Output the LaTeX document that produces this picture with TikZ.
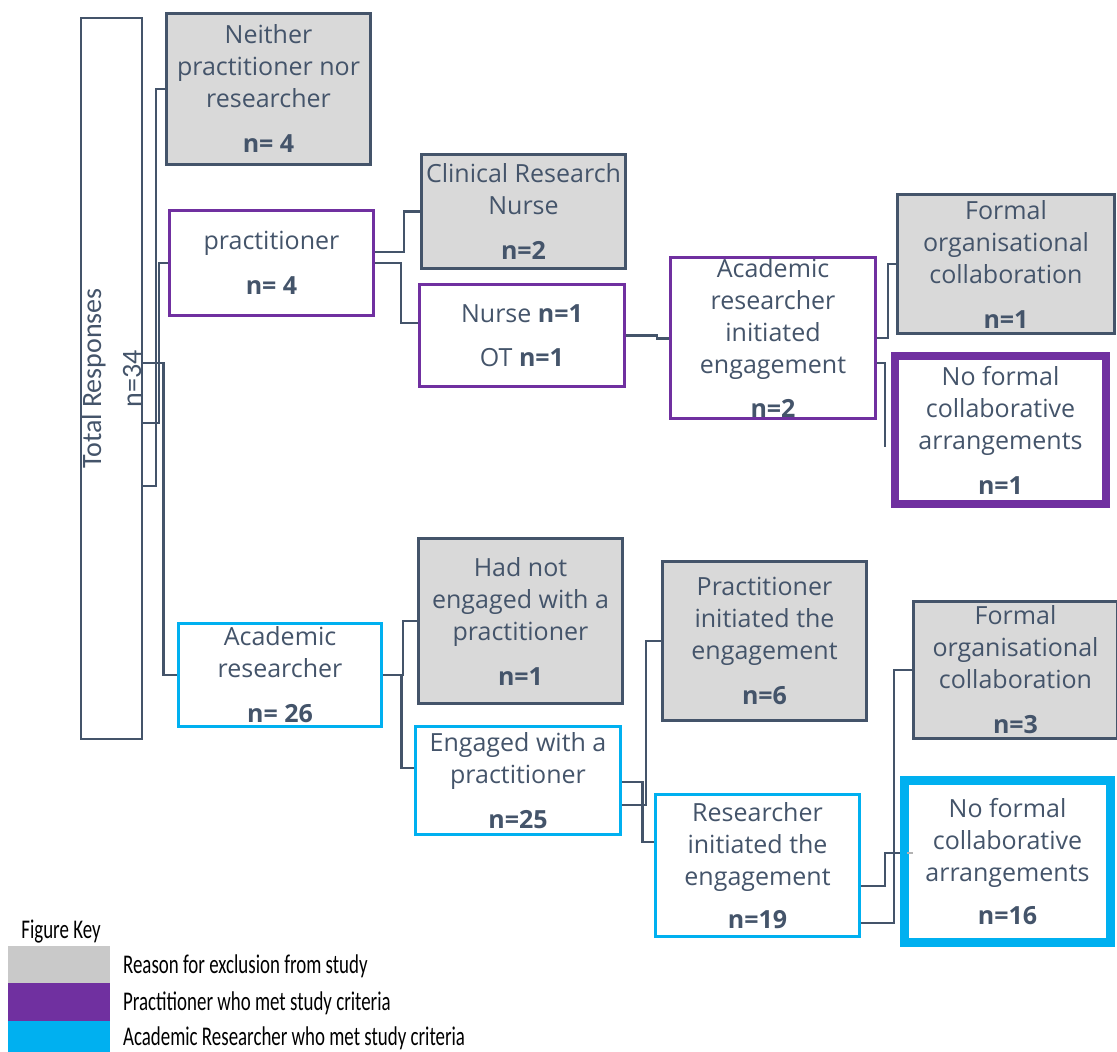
\documentclass[tikz,border=0pt]{standalone}
\usepackage{graphicx}
\usepackage{fontspec}
\setmainfont{Open Sans}
\newfontfamily\keyfont{Carlito}
\usetikzlibrary{calc,backgrounds}
\definecolor{slate}{HTML}{44546A}
\definecolor{boxgray}{HTML}{D9D9D9}
\definecolor{keygray}{HTML}{C9C9C9}
\definecolor{ppl}{HTML}{7030A0}
\definecolor{cyn}{HTML}{00B0F0}
\begin{document}
\begin{tikzpicture}[x=1pt,y=-1pt,
 base/.style={align=center, text=slate, inner sep=1pt, font=\fontsize{25}{32}\selectfont},
 graybox/.style={base, draw=slate, fill=boxgray, line width=3pt},
 pplbox/.style={base, draw=ppl, fill=white, line width=3pt},
 pplthick/.style={base, draw=ppl, fill=white, line width=8pt},
 cynbox/.style={base, draw=cyn, fill=white, line width=2.5pt},
 cynthick/.style={base, draw=cyn, fill=white, line width=9pt},
 conn/.style={draw=slate, line width=2.5pt},
 keytext/.style={anchor=west, text=black, font=\keyfont\fontsize{27}{27}\selectfont, xscale=0.7, transform shape, inner sep=0pt},
 swatch/.style={minimum width=102pt, inner sep=0pt, anchor=north west, draw=none}]
\useasboundingbox (0,0) rectangle (1117,1052);

% total
\node[draw=slate, line width=2pt, fill=white, rotate=90, minimum width=721pt, minimum height=61pt,
      text=slate, align=center, font=\keyfont\fontsize{28}{40}\selectfont, inner sep=0pt]
      (total) at (111.5,378.5) {Total Responses\\n=34};

% column 1
\node[graybox, minimum width=204pt, minimum height=151pt] (neither) at (268.5,89)
  {Neither\\practitioner nor\\researcher\\[13pt]\textbf{n= 4}};
\node[pplbox, minimum width=204pt, minimum height=105pt] (pract) at (271.5,263)
  {practitioner\\[13pt]\textbf{n= 4}};
\node[cynbox, minimum width=203pt, minimum height=103pt] (acad) at (280,675)
  {Academic\\researcher\\[13pt]\textbf{n= 26}};

% column 2
\node[graybox, minimum width=204pt, minimum height=114pt] (crn) at (523.5,211.5)
  {Clinical Research\\Nurse\\[13pt]\textbf{n=2}};
\node[pplbox, minimum width=205pt, minimum height=102pt] (nurse) at (522,335.5)
  {Nurse \textbf{n=1}\\[12pt]OT \textbf{n=1}};
\node[graybox, minimum width=204pt, minimum height=165pt] (hadnot) at (520.5,621)
  {Had not\\engaged with a\\practitioner\\[13pt]\textbf{n=1}};
\node[cynbox, minimum width=205pt, minimum height=108pt] (engaged) at (518,780.5)
  {Engaged with a\\practitioner\\[13pt]\textbf{n=25}};

% column 3
\node[pplbox, minimum width=205pt, minimum height=161pt] (ari) at (773,338)
  {Academic\\researcher\\initiated\\engagement\\[12pt]\textbf{n=2}};
\node[graybox, minimum width=204pt, minimum height=159pt] (pinit) at (764.5,641)
  {Practitioner\\initiated the\\engagement\\[13pt]\textbf{n=6}};
\node[cynbox, minimum width=204pt, minimum height=142pt] (rinit) at (757.5,865.5)
  {Researcher\\initiated the\\engagement\\[11pt]\textbf{n=19}};

% column 4
\node[graybox, minimum width=217pt, minimum height=139pt] (formal1) at (1006,264)
  {Formal\\organisational\\collaboration\\[13pt]\textbf{n=1}};
\node[pplthick, minimum width=211pt, minimum height=148pt] (noformal1) at (1000.5,430)
  {No formal\\collaborative\\arrangements\\[13pt]\textbf{n=1}};
\node[graybox, minimum width=204pt, minimum height=137pt] (formal2) at (1015.5,670)
  {Formal\\organisational\\collaboration\\[13pt]\textbf{n=3}};
\node[cynthick, minimum width=206pt, minimum height=162pt] (noformal2) at (1007.5,861.5)
  {No formal\\collaborative\\arrangements\\[11pt]\textbf{n=16}};
\draw[black!30, line width=1.5pt] ($(noformal2.west |- 0,853)+(7,0)$) -- ++(6,0);

\begin{scope}[on background layer]
\fill[white] (0,0) rectangle (1117,1052);
\draw[conn] (total.south |- 0,486) -| ($(neither.west)+(-9,0)$) -- (neither.west);
\draw[conn] (total.south |- 0,423) -| ($(pract.west)+(-9,0)$) -- (pract.west);
\draw[conn] (total.south |- 0,363) -| ($(acad.west)+(-14,0)$) -- (acad.west);
\draw[conn] (pract.east |- 0,252) -| ($(crn.west)+(-16,0)$) -- (crn.west);
\draw[conn] (pract.east) -| ($(nurse.west |- 0,323)+(-17,0)$) -- (nurse.west |- 0,323);
\draw[conn] (nurse.east) -- ++(31,0) -- ++(0,3) -- (ari.west |- 0,338.5);
\draw[conn] (ari.east) -| ($(formal1.west)+(-8,0)$) -- (formal1.west);
\draw[conn] (ari.east |- 0,363) -| ($(noformal1.west |- 0,447)+(-6,0)$);
\draw[conn] (acad.east) -| ($(hadnot.west)+(-14,0)$) -- (hadnot.west);
\draw[conn] (acad.east) -| ($(engaged.west |- 0,768)+(-13,0)$) -- (engaged.west |- 0,768);
\draw[conn] (engaged.east |- 0,805) -| ($(pinit.west)+(-15,0)$) -- (pinit.west);
\draw[conn] (engaged.east |- 0,782) -| ($(rinit.west |- 0,842)+(-12,0)$) -- (rinit.west |- 0,842);
\draw[conn] (rinit.east |- 0,886) -| ($(noformal2.west |- 0,853)+(-15,0)$) -- (noformal2.west |- 0,853);
\draw[conn] (rinit.east |- 0,923) -| ($(formal2.west)+(-18,0)$) -- (formal2.west);
\end{scope}

% legend
\node[keytext, anchor=center] (keytitle) at (61,932) {Figure Key};
\node[swatch, fill=keygray, minimum height=37pt] (kgray) at (8,946) {};
\node[swatch, fill=ppl, minimum height=38pt] (kppl) at (8,983) {};
\node[swatch, fill=cyn, minimum height=31pt] (kcyn) at (8,1021) {};
\node[keytext] (kt1) at (123,966) {Reason for exclusion from study};
\node[keytext] (kt2) at (123,1003) {Practitioner who met study criteria};
\node[keytext] (kt3) at (123,1038) {Academic Researcher who met study criteria};
\end{tikzpicture}
\end{document}
